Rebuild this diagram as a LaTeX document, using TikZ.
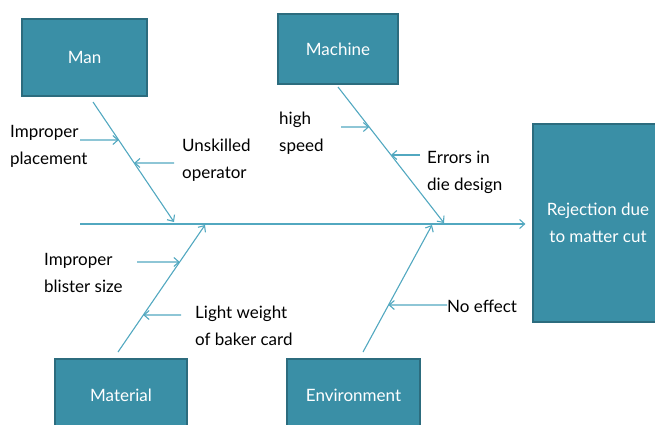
\documentclass[tikz,border=0pt]{standalone}
\usepackage{fontspec}
\setmainfont{Lato}
\usetikzlibrary{arrows.meta,calc}
\definecolor{boxfill}{RGB}{58,143,166}
\definecolor{boxline}{RGB}{44,108,126}
\definecolor{bonecol}{RGB}{82,168,192}

\begin{document}
\begin{tikzpicture}[x=1pt,y=-1pt,
  font=\fontsize{17}{27}\selectfont,
  cause/.style={draw=boxline, line width=1.2pt, fill=boxfill, text=white, inner sep=0pt, align=center},
  bone/.style={draw=bonecol, line width=1.1pt, -{Straight Barb[length=5pt,width=9pt]}},
  note/.style={align=left, inner sep=0pt, anchor=base west}]
  \useasboundingbox (0,0) rectangle (655,425);

  % draw the cause boxes
  \node[cause, minimum width=125pt, minimum height=77pt] (man) at (84.5,57.5) {Man};
  \node[cause, minimum width=120pt, minimum height=70pt] (machine) at (338,49) {Machine};
  \node[cause, minimum width=132pt, minimum height=72pt] (material) at (121,395) {Material};
  \node[cause, minimum width=133pt, minimum height=72pt] (environment) at (353.5,395) {Environment};

  % draw the effect box
  \node[cause, minimum width=130pt, minimum height=198pt] (effect) at (598,223) {Rejection due\\to matter cut};

  % draw the spine
  \coordinate (spinetail) at (80,224);
  \draw[bone, shorten >=7pt] (spinetail) -- (effect.west |- spinetail);

  % draw the bones
  \coordinate (mantail) at (93,102);
  \coordinate (manhead) at (174,222);
  \coordinate (machinetail) at (338,87);
  \coordinate (machinehead) at (444,223);
  \coordinate (materialtail) at (118,352);
  \coordinate (materialhead) at (205,225);
  \coordinate (environmenttail) at (363,352);
  \coordinate (environmenthead) at (432,225);
  \draw[bone] (mantail) -- (manhead);
  \draw[bone] (machinetail) -- (machinehead);
  \draw[bone] (materialtail) -- (materialhead);
  \draw[bone] (environmenttail) -- (environmenthead);

  % label the causes (base is the last line)
  \node[note] (placement) at (10,164) {Improper\\placement};
  \node[note] (operator) at (182,178) {Unskilled\\operator};
  \node[note] (speed) at (279,151) {high\\speed};
  \node[note] (design) at (427,190) {Errors in\\die design};
  \node[note] (blister) at (44,292) {Improper\\blister size};
  \node[note] (card) at (195,345) {Light weight\\of baker card};
  \node[note] (noeffect) at (447,312) {No effect};

  % get the small arrows
  \coordinate (placementtip) at ($(mantail)!0.317!(manhead)$);
  \coordinate (placementend) at (80,140);
  \coordinate (operatortip) at ($(mantail)!0.508!(manhead)$);
  \coordinate (operatorend) at (174,163);
  \coordinate (speedtip) at ($(machinetail)!0.294!(machinehead)$);
  \coordinate (speedend) at (341,127);
  \coordinate (designtip) at ($(machinetail)!0.5!(machinehead)$);
  \coordinate (designend) at (420,155);
  \coordinate (blistertip) at ($(materialtail)!0.709!(materialhead)$);
  \coordinate (blisterend) at (137,262);
  \coordinate (cardtip) at ($(materialtail)!0.291!(materialhead)$);
  \coordinate (cardend) at (181,315);
  \coordinate (noeffecttip) at ($(environmenttail)!0.37!(environmenthead)$);
  \coordinate (noeffectend) at (447,305);
  \draw[bone] (placementend) -- (placementtip);
  \draw[bone] (operatorend) -- (operatortip);
  \draw[bone] (speedend) -- (speedtip);
  \draw[bone] (designend) -- (designtip);
  \draw[bone] (blisterend) -- (blistertip);
  \draw[bone] (cardend) -- (cardtip);
  \draw[bone] (noeffectend) -- (noeffecttip);
\end{tikzpicture}
\end{document}
